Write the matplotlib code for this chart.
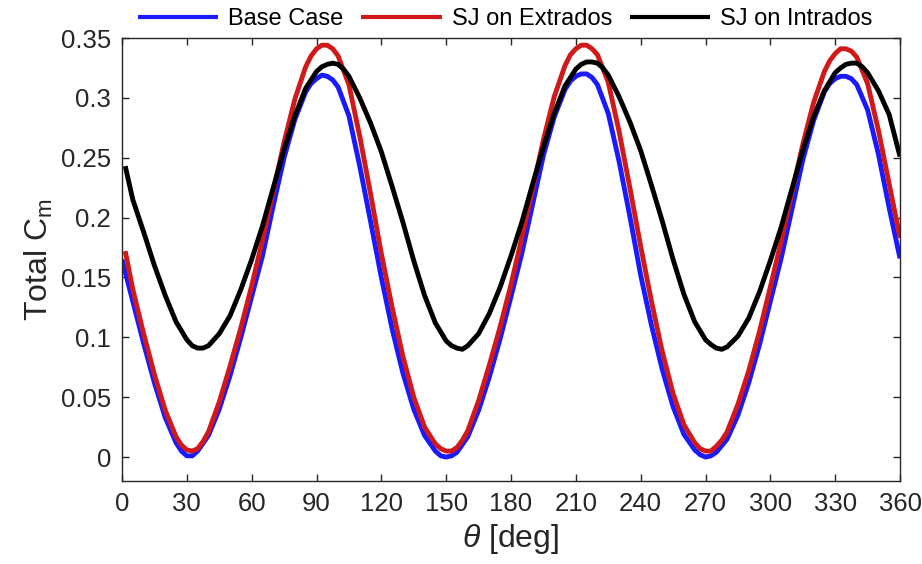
import matplotlib
matplotlib.use("Agg")
import matplotlib.pyplot as plt

# ---- data ----
theta_base = [0, 5, 10, 15, 20, 25, 27.5, 30, 32.5, 35, 40, 45, 50, 55, 60, 65, 70, 75, 80, 85,
              87.5, 90, 92.5, 95, 97.5, 100, 105, 110, 115, 120, 125, 130, 135, 140, 145, 147.5,
              150, 152.5, 155, 160, 165, 170, 175, 180, 185, 190, 195, 200, 205, 207.5, 210, 212.5,
              215, 217.5, 220, 225, 230, 235, 240, 245, 250, 255, 260, 265, 267.5, 270, 272.5, 275,
              280, 285, 290, 295, 300, 305, 310, 315, 320, 325, 327.5, 330, 332.5, 335, 337.5, 340,
              345, 350, 355, 360]
base_case = [0.165, 0.130, 0.095, 0.062, 0.033, 0.012, 0.005, 0.001, 0.001, 0.005, 0.018, 0.040,
             0.068, 0.100, 0.134, 0.168, 0.210, 0.250, 0.282, 0.305, 0.312, 0.316, 0.319, 0.318,
             0.315, 0.309, 0.285, 0.243, 0.197, 0.150, 0.107, 0.070, 0.040, 0.018, 0.005, 0.001,
             0.000, 0.001, 0.004, 0.017, 0.039, 0.067, 0.099, 0.134, 0.170, 0.211, 0.252, 0.284,
             0.307, 0.314, 0.318, 0.320, 0.320, 0.317, 0.311, 0.287, 0.247, 0.201, 0.152, 0.110,
             0.073, 0.042, 0.019, 0.006, 0.002, 0.000, 0.001, 0.004, 0.015, 0.035, 0.062, 0.094,
             0.130, 0.166, 0.207, 0.248, 0.281, 0.305, 0.312, 0.316, 0.318, 0.318, 0.316, 0.311,
             0.290, 0.253, 0.208, 0.166]

theta_extrados = [1.5, 5, 10, 15, 20, 25, 27.5, 30, 32.5, 35, 37.5, 40, 45, 50, 55, 60, 65, 70, 75,
                  80, 85, 87.5, 90, 92.5, 95, 97.5, 100, 105, 110, 115, 120, 125, 130, 135, 140, 145,
                  147.5, 150, 152.5, 155, 157.5, 160, 165, 170, 175, 180, 185, 190, 195, 200, 205,
                  207.5, 210, 212.5, 215, 217.5, 220, 225, 230, 235, 240, 245, 250, 255, 260, 265,
                  267.5, 270, 272.5, 275, 277.5, 280, 285, 290, 295, 300, 305, 310, 315, 320, 325,
                  327.5, 330, 332.5, 335, 337.5, 340, 345, 350, 355, 360]
sj_extrados = [0.172, 0.140, 0.103, 0.069, 0.039, 0.017, 0.010, 0.006, 0.005, 0.007, 0.013, 0.021,
               0.046, 0.076, 0.108, 0.143, 0.181, 0.222, 0.263, 0.299, 0.326, 0.335, 0.341, 0.344,
               0.344, 0.341, 0.335, 0.311, 0.268, 0.220, 0.170, 0.125, 0.084, 0.050, 0.025, 0.011,
               0.007, 0.005, 0.005, 0.008, 0.014, 0.022, 0.047, 0.077, 0.109, 0.144, 0.183, 0.224,
               0.265, 0.301, 0.327, 0.336, 0.341, 0.344, 0.344, 0.341, 0.336, 0.313, 0.272, 0.225,
               0.176, 0.130, 0.088, 0.053, 0.027, 0.012, 0.007, 0.005, 0.005, 0.009, 0.014, 0.021,
               0.044, 0.072, 0.105, 0.142, 0.180, 0.221, 0.261, 0.296, 0.322, 0.331, 0.337, 0.341,
               0.341, 0.339, 0.334, 0.312, 0.273, 0.228, 0.183]

theta_intrados = [1.5, 5, 10, 15, 20, 25, 30, 32.5, 35, 37.5, 40, 45, 50, 55, 60, 65, 70, 75, 80,
                  85, 90, 92.5, 95, 97.5, 100, 102.5, 105, 110, 115, 120, 125, 130, 135, 140, 145,
                  150, 152.5, 155, 157.5, 160, 165, 170, 175, 180, 185, 190, 195, 200, 205, 210,
                  212.5, 215, 217.5, 220, 222.5, 225, 230, 235, 240, 245, 250, 255, 260, 265, 270,
                  272.5, 275, 277.5, 280, 285, 290, 295, 300, 305, 310, 315, 320, 325, 330, 332.5,
                  335, 337.5, 340, 342.5, 345, 350, 355, 360]
sj_intrados = [0.243, 0.215, 0.188, 0.160, 0.135, 0.113, 0.098, 0.093, 0.091, 0.091, 0.093, 0.103,
               0.118, 0.140, 0.165, 0.193, 0.225, 0.257, 0.285, 0.308, 0.322, 0.326, 0.328, 0.329,
               0.328, 0.324, 0.318, 0.300, 0.279, 0.255, 0.226, 0.196, 0.164, 0.135, 0.112, 0.097,
               0.093, 0.091, 0.090, 0.093, 0.103, 0.120, 0.142, 0.168, 0.196, 0.228, 0.259, 0.287,
               0.310, 0.324, 0.328, 0.330, 0.330, 0.329, 0.325, 0.319, 0.301, 0.280, 0.256, 0.227,
               0.197, 0.165, 0.136, 0.113, 0.098, 0.094, 0.091, 0.090, 0.092, 0.101, 0.116, 0.138,
               0.164, 0.192, 0.224, 0.256, 0.284, 0.306, 0.321, 0.325, 0.328, 0.329, 0.329, 0.326,
               0.321, 0.306, 0.286, 0.251]

series_labels = ["Base Case", "SJ on Extrados", "SJ on Intrados"]
x_ticks = list(range(0, 361, 30))
y_ticks = [0, 0.05, 0.1, 0.15, 0.2, 0.25, 0.3, 0.35]
y_tick_labels = ["0", "0.05", "0.1", "0.15", "0.2", "0.25", "0.3", "0.35"]

# ---- style ----
plt.rcParams["font.family"] = ["Liberation Sans", "DejaVu Sans"]
plt.rcParams["mathtext.fontset"] = "custom"
plt.rcParams["mathtext.rm"] = "Liberation Sans"
plt.rcParams["mathtext.it"] = "Liberation Sans:italic"

axcol = "#262626"
fig = plt.figure(figsize=(9.22, 5.64), dpi=100)
ax = fig.add_axes([122 / 922, 1 - 481 / 564, (900 - 122) / 922, (481 - 38) / 564])

lw = 3.5
kw = dict(lw=lw, solid_capstyle="butt", solid_joinstyle="round")
ax.plot(theta_base, base_case, color="#1a1aff", label=series_labels[0], **kw)
ax.plot(theta_extrados, sj_extrados, color="#d11919", label=series_labels[1], **kw)
ax.plot(theta_intrados, sj_intrados, color="black", label=series_labels[2], **kw)

ax.set_xlim(0, 360)
ax.set_ylim(-0.02, 0.35)
ax.set_xticks(x_ticks)
ax.set_yticks(y_ticks)
ax.set_yticklabels(y_tick_labels)

ax.tick_params(direction="in", length=5, width=1.0, top=True, right=True,
               labelsize=18.5, colors=axcol, pad=8)
for s in ax.spines.values():
    s.set_color(axcol)
    s.set_linewidth(1.0)

ax.set_xlabel(r"$\theta$ [deg]", fontsize=23, color=axcol, labelpad=4)
ax.set_ylabel(r"Total C$_{\mathrm{m}}$", fontsize=23, color=axcol, labelpad=4)

leg = fig.legend(loc="center left", bbox_to_anchor=(138 / 922, 1 - 19 / 564), ncol=3,
                 frameon=False, fontsize=17, handlelength=3.4, handletextpad=0.42,
                 columnspacing=0.76, borderpad=0, borderaxespad=0)
for h in leg.get_lines():
    h.set_linewidth(3.0)

fig.savefig("out.png", dpi=100)
